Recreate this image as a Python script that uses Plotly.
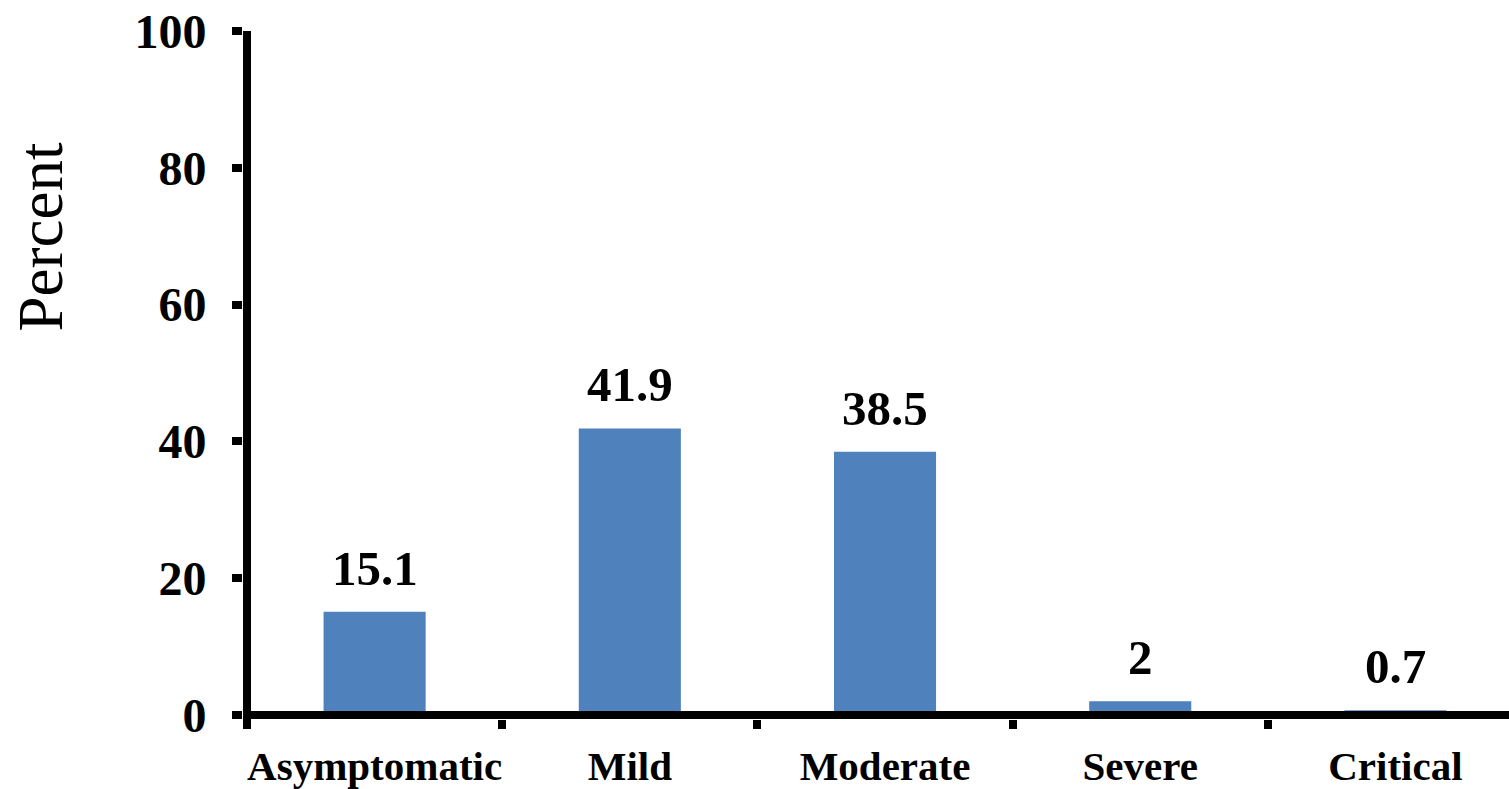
import plotly.graph_objects as go

# Severity distribution of cases (percent)
categories = ["Asymptomatic", "Mild", "Moderate", "Severe", "Critical"]
percent = [15.1, 41.9, 38.5, 2, 0.7]
y_ticks = [0, 20, 40, 60, 80, 100]

BAR_COLOR = "#4F81BD"
SERIF = "Liberation Serif"

fig = go.Figure()
fig.add_trace(go.Bar(
    x=categories,
    y=percent,
    width=0.4,
    marker=dict(color=BAR_COLOR, line=dict(width=0)),
    hoverinfo="skip",
))

# value labels above each bar
for cat, val in zip(categories, percent):
    fig.add_annotation(
        x=cat, y=val, xref="x", yref="y",
        text=f"<b>{val:g}</b>",
        showarrow=False,
        xanchor="center", yanchor="bottom",
        yshift=14,
        font=dict(family=SERIF, size=49, color="black"),
    )

# y-axis title
fig.add_annotation(
    x=-0.1595, y=0.70, xref="paper", yref="paper",
    text="Percent", textangle=-90, showarrow=False,
    xanchor="center", yanchor="middle",
    font=dict(family=SERIF, size=63, color="black"),
)

# axis lines: horizontal at y = 0, vertical at the left category boundary
fig.add_shape(
    type="line", xref="paper", yref="y",
    x0=0, x1=1, y0=0, y1=0,
    line=dict(color="black", width=8),
    layer="above",
)
fig.add_shape(
    type="line", xref="x", yref="paper",
    x0=-0.5, x1=-0.5, y0=-0.012, y1=1,
    line=dict(color="black", width=8),
    layer="above",
)

fig.update_layout(
    width=1509, height=789,
    margin=dict(l=242.5, r=0, t=31, b=789 - 719.5, autoexpand=False),
    plot_bgcolor="white", paper_bgcolor="white",
    showlegend=False,
    xaxis=dict(
        type="category",
        range=[-0.5157, 4.445],
        automargin=False,
        showline=False, showgrid=False, zeroline=False,
        ticks="outside", tickson="boundaries",
        ticklen=9, tickwidth=8, tickcolor="black",
        tickangle=0,
        tickfont=dict(family=SERIF, size=41, color="black", weight="bold"),
        ticklabelstandoff=19,
    ),
    yaxis=dict(
        range=[-0.584, 100],
        tickvals=y_ticks,
        automargin=False,
        showline=False,
        showgrid=False, zeroline=False,
        ticks="outside", ticklen=10, tickwidth=8, tickcolor="black",
        tickfont=dict(family=SERIF, size=48, color="black", weight="bold"),
        ticklabelstandoff=16,
    ),
)

fig.write_html("out.html")
